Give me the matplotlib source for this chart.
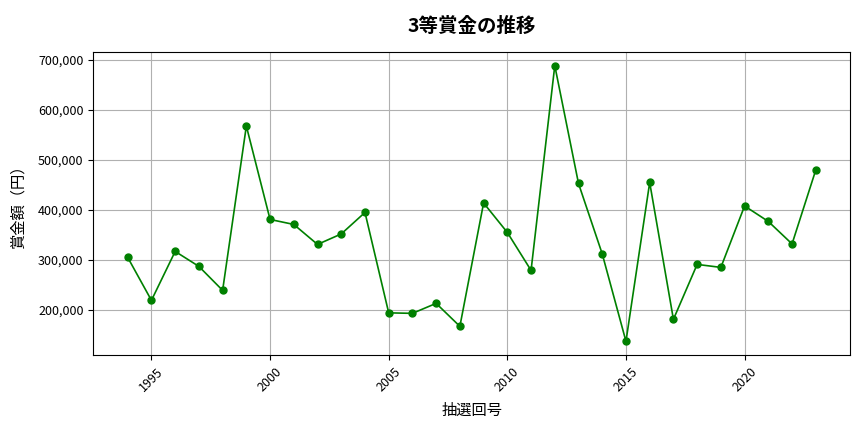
import matplotlib
matplotlib.use("Agg")
import matplotlib.pyplot as plt
from matplotlib.ticker import FuncFormatter

plt.rcParams['font.family'] = ['Noto Sans CJK JP', 'DejaVu Sans']

years = list(range(1994, 2024))
prizes = [305000, 219000, 317000, 287000, 239000, 568000, 381000, 371000, 331000, 352000,
          395000, 194000, 193000, 213000, 167000, 414000, 355000, 279000, 689000, 453000,
          312000, 137000, 455000, 181000, 291000, 285000, 408000, 377000, 332000, 480000]

fig, ax = plt.subplots(figsize=(8.64, 4.32), dpi=100)
ax.plot(years, prizes, marker='o', color='green', linewidth=1.2, markersize=5)
ax.set_title('3等賞金の推移', fontsize=14, fontweight='bold', pad=14)
ax.set_xlabel('抽選回号', fontsize=11, labelpad=6)
ax.set_ylabel('賞金額（円）', fontsize=11, labelpad=8)
ax.yaxis.set_major_formatter(FuncFormatter(lambda v, p: f'{int(v):,}'))
ax.tick_params(labelsize=9)
ax.grid(True, color='#b0b0b0', linewidth=0.8)
plt.setp(ax.get_xticklabels(), rotation=45)
fig.subplots_adjust(left=0.108, right=0.984, top=0.88, bottom=0.178)
fig.savefig('out.png', dpi=100)
